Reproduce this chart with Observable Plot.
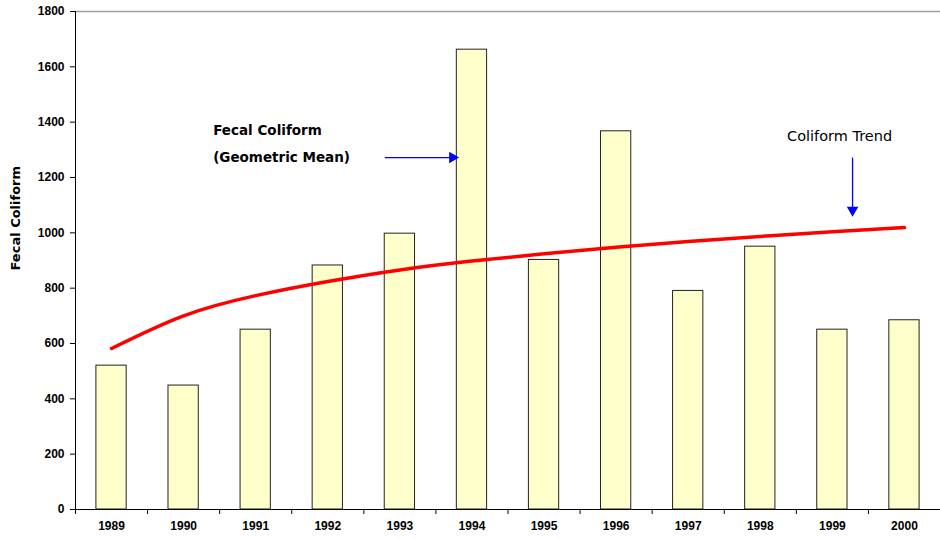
<!DOCTYPE html>
<html>
<head>
<meta charset="utf-8">
<script src="https://cdn.jsdelivr.net/npm/d3@7"></script>
<script src="https://cdn.jsdelivr.net/npm/@observablehq/plot@0.6"></script>
<style>
  html, body { margin: 0; padding: 0; background: #fff; }
  #chart svg { display: block; }
</style>
</head>
<body>
<div id="chart"></div>
<script>
const years = [1989, 1990, 1991, 1992, 1993, 1994, 1995, 1996, 1997, 1998, 1999, 2000];
const fecal = [520, 448, 650, 882, 997, 1662, 902, 1367, 790, 950, 650, 684];
const trend = [582, 700, 773, 824, 866, 898, 924, 948, 969, 987, 1004, 1019];
const yTicks = [0, 200, 400, 600, 800, 1000, 1200, 1400, 1600, 1800];
const leftNotes = [
  {label: "Fecal Coliform", x: 1990.41, y: 1370},
  {label: "(Geometric Mean)", x: 1990.41, y: 1272}
];
const rightNotes = [
  {label: "Coliform Trend", x: 1999.1, y: 1348}
];
const arrowLines = [
  {x1: 1992.79, y1: 1272, x2: 1993.7, y2: 1272},
  {x1: 1999.28, y1: 1272, x2: 1999.28, y2: 1085}
];
const arrowHeads = [
  {x: 1993.73, y: 1272, angle: 90},
  {x: 1999.28, y: 1082, angle: 180}
];

const bars = years.map((y, i) => ({year: y, value: fecal[i]}));
const trendData = years.map((y, i) => ({year: y, value: trend[i]}));
const halfBar = 0.21;
const bandEdges = years.map(y => y - 0.5).concat([years[years.length - 1] + 0.5]);

const font = "'Liberation Sans', Arial, sans-serif";
const annoFont = "'DejaVu Sans', sans-serif";

const chart = Plot.plot({
  width: 940,
  height: 539,
  marginLeft: 75,
  marginRight: 0,
  marginTop: 11,
  marginBottom: 30,
  style: {fontFamily: font, background: "#fff"},
  x: {type: "linear", domain: [1988.5, 2000.5], axis: null},
  y: {type: "linear", domain: [0, 1800], axis: null},
  marks: [
    Plot.ruleY([1800], {stroke: "#a0a0a0", strokeWidth: 1.5}),
    Plot.rectY(bars, {
      x1: d => d.year - halfBar, x2: d => d.year + halfBar,
      y1: 0, y2: "value",
      fill: "#ffffcc", stroke: "#222", strokeWidth: 1
    }),
    Plot.line(trendData, {
      x: "year", y: "value", curve: "natural",
      stroke: "#ff0000", strokeWidth: 3.5
    }),
    // y axis
    Plot.axisY(yTicks, {anchor: "left", tickSize: 5, tickPadding: 6,
      fontSize: 12, fontWeight: "bold", stroke: "#000", color: "#000",
      label: null, tickFormat: d => String(d)}),
    Plot.ruleX([1988.5], {stroke: "#000", strokeWidth: 1}),
    // x axis
    Plot.ruleY([0], {stroke: "#000", strokeWidth: 1}),
    Plot.axisX(bandEdges, {anchor: "bottom", tickSize: 5, tickFormat: () => "", stroke: "#000", label: null}),
    Plot.axisX(years, {anchor: "bottom", tickSize: 0, tickPadding: 12, tickFormat: d => String(d),
      fontSize: 12, fontWeight: "bold", color: "#000", label: null}),
    // y label
    Plot.text(["Fecal Coliform"], {
      frameAnchor: "left", dx: -60, dy: 10, rotate: -90,
      fontSize: 13, fontWeight: "bold", fill: "#000", fontFamily: annoFont
    }),
    // annotations
    Plot.text(leftNotes, {
      x: "x", y: "y", text: "label", textAnchor: "start",
      fontSize: 13.5, fontWeight: "bold", fill: "#000", fontFamily: annoFont
    }),
    Plot.text(rightNotes, {
      x: "x", y: "y", text: "label", textAnchor: "middle",
      fontSize: 14.5, fill: "#000", fontFamily: annoFont
    }),
    Plot.link(arrowLines, {
      x1: "x1", y1: "y1", x2: "x2", y2: "y2",
      stroke: "#0000ff", strokeWidth: 1.3
    }),
    Plot.dot(arrowHeads, {
      x: "x", y: "y", rotate: "angle", symbol: "triangle2", r: 5.5,
      fill: "#0000ff", stroke: "none"
    })
  ]
});
document.getElementById("chart").appendChild(chart);
</script>
</body>
</html>
